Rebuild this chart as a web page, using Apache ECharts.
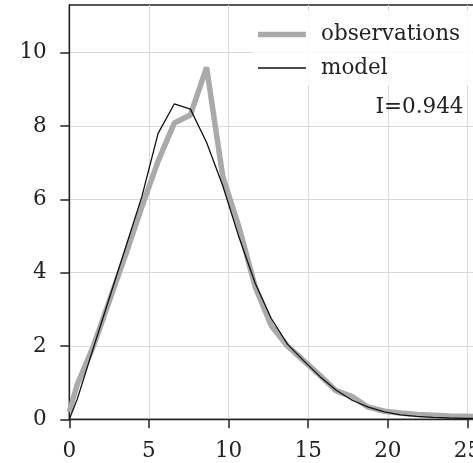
<!DOCTYPE html>
<html>
<head>
<meta charset="utf-8">
<script src="https://cdn.jsdelivr.net/npm/echarts@6/dist/echarts.min.js"></script>
<style>html,body{margin:0;padding:0;background:#fff;}#c{width:473px;height:463px;}</style>
</head>
<body>
<div id="c"></div>
<script>
const xValues = [0, 0.5, 1.515, 2.53, 3.545, 4.56, 5.575, 6.59, 7.605, 8.62, 9.635, 10.65, 11.665, 12.68, 13.695, 14.71, 15.725, 16.74, 17.755, 18.77, 19.785, 20.8, 21.815, 22.83, 23.845, 24.86, 25.875, 26.89, 27.905];
const observations = [0.2, 0.95, 2.0, 3.25, 4.5, 5.8, 7.04, 8.08, 8.30, 9.60, 6.62, 5.25, 3.62, 2.55, 2.0, 1.6, 1.2, 0.78, 0.62, 0.33, 0.22, 0.17, 0.13, 0.11, 0.09, 0.08, 0.07, 0.06, 0.05];
const model = [0, 0.55, 1.95, 3.33, 4.7, 6.08, 7.80, 8.60, 8.46, 7.55, 6.37, 4.97, 3.72, 2.75, 2.05, 1.6, 1.17, 0.8, 0.52, 0.33, 0.2, 0.12, 0.08, 0.05, 0.035, 0.025, 0.02, 0.015, 0.01];
const yTicks = [0, 2, 4, 6, 8, 10];
const xTicks = [0, 5, 10, 15, 20, 25];
const annotation = 'I=0.944';

const FONT = 'DejaVu Serif';
const FS = 21.5;
const chart = echarts.init(document.getElementById('c'), null, {renderer: 'canvas'});
const pairs = (xs, ys) => xs.map((x, i) => [x, ys[i]]);
const legendCommon = {
  orient: 'vertical', right: 'auto', bottom: 'auto', z: 10,
  itemWidth: 48, itemGap: 0,
  textStyle: {color: '#222', fontFamily: FONT, fontSize: FS, padding: [0, 0, 0, 10]},
  selectedMode: false
};
chart.setOption({
  animation: false,
  backgroundColor: '#ffffff',
  grid: {left: 69.3, top: 5, width: 446, height: 414.3, outerBoundsMode: 'none', containLabel: false,
         show: true, borderColor: '#222', borderWidth: 1.3, backgroundColor: 'transparent'},
  xAxis: {
    type: 'value', min: 0, max: 28, interval: 5,
    axisLine: {show: true, onZero: false, lineStyle: {color: '#222', width: 1.3}},
    axisTick: {show: true, length: 9, lineStyle: {color: '#222', width: 1.5}, customValues: xTicks},
    axisLabel: {color: '#222', fontFamily: FONT, fontSize: FS, margin: 21, customValues: xTicks},
    splitLine: {show: true, lineStyle: {color: '#d9d9d9', width: 1}}
  },
  yAxis: {
    type: 'value', min: 0, max: 11.3, interval: 2,
    axisLine: {show: true, onZero: false, lineStyle: {color: '#222', width: 1.3}},
    axisTick: {show: true, length: 9, lineStyle: {color: '#222', width: 1.5}, customValues: yTicks},
    axisLabel: {color: '#222', fontFamily: FONT, fontSize: FS, margin: 22.5, customValues: yTicks},
    splitLine: {show: true, lineStyle: {color: '#d9d9d9', width: 1}}
  },
  legend: [
    Object.assign({}, legendCommon, {left: 258, top: 23.5, padding: 0, itemHeight: 5.5,
      data: [{name: 'observations', icon: 'rect'}]}),
    Object.assign({}, legendCommon, {left: 258, top: 57, padding: 0, itemHeight: 1.4,
      data: [{name: 'model', icon: 'rect'}]})
  ],
  graphic: [
    {type: 'rect', z: 5, silent: true,
     shape: {x: 252, y: 10, width: 240, height: 76}, style: {fill: 'rgba(255,255,255,0.8)'}},
    {type: 'text', z: 100,
     style: {x: 463.5, y: 107.5, text: annotation, align: 'right', verticalAlign: 'middle', font: FS + 'px "DejaVu Serif"', fill: '#222'}}
  ],
  series: [
    {name: 'observations', type: 'line', data: pairs(xValues, observations), symbol: 'none', z: 2,
     lineStyle: {color: '#aaaaaa', width: 5.5}, itemStyle: {color: '#aaaaaa'}},
    {name: 'model', type: 'line', data: pairs(xValues, model), symbol: 'none', z: 3,
     lineStyle: {color: '#111111', width: 1.3}, itemStyle: {color: '#111111'}}
  ]
});
</script>
</body>
</html>
